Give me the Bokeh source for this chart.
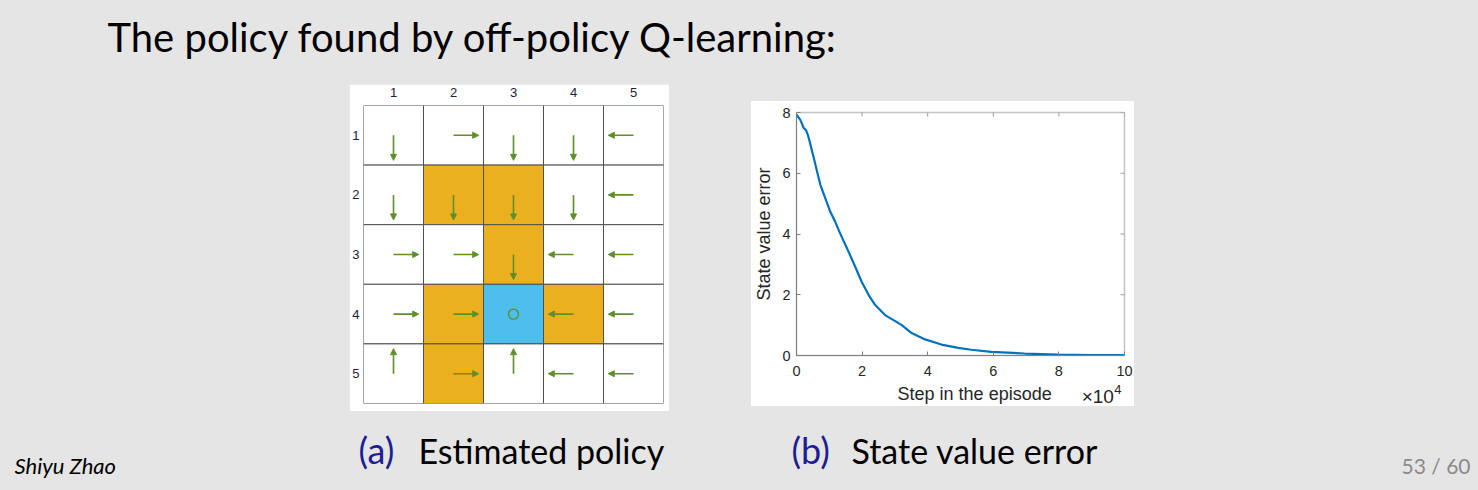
from bokeh.plotting import figure
from bokeh.layouts import column, row
from bokeh.models import (Range1d, FixedTicker, Arrow, NormalHead, ColumnDataSource)
from bokeh.core.properties import value
from bokeh.embed import file_html
from bokeh.resources import INLINE

# ---------------- data ----------------
title_text = "The policy found by off-policy Q-learning:"
caption_a_tag = "(a)"
caption_a = "Estimated policy"
caption_b_tag = "(b)"
caption_b = "State value error"
author = "Shiyu Zhao"
page_label = "53 / 60"

grid_cols = [1, 2, 3, 4, 5]
grid_rows = [1, 2, 3, 4, 5]
# 0 = accessible, 1 = forbidden, 2 = target
cell_types = [
    [0, 0, 0, 0, 0],
    [0, 1, 1, 0, 0],
    [0, 0, 1, 0, 0],
    [0, 1, 2, 1, 0],
    [0, 1, 0, 0, 0],
]
policy = [
    ["down", "right", "down", "down", "left"],
    ["down", "down", "down", "down", "left"],
    ["right", "right", "down", "left", "left"],
    ["right", "right", "stay", "left", "left"],
    ["up", "right", "up", "left", "left"],
]

steps = [0, 1200, 2200, 2900, 3500, 4300, 5300, 6300, 7300, 8800, 10300,
         11800, 13300, 15900, 17900, 19900, 22000, 24000, 27000, 30100,
         32100, 35100, 39200, 44200, 49300, 53300, 59400, 69500, 79700,
         90000, 100000]
errors = [7.93, 7.75, 7.49, 7.42, 7.25, 6.92, 6.49, 6.04, 5.61, 5.17, 4.73,
          4.40, 4.02, 3.41, 2.92, 2.42, 1.99, 1.66, 1.33, 1.13,
          1.00, 0.74, 0.53, 0.36, 0.25, 0.19, 0.12, 0.065, 0.03,
          0.015, 0.01]
x_tick_labels = ["0", "2", "4", "6", "8", "10"]
x_tick_values = [0, 20000, 40000, 60000, 80000, 100000]
y_tick_values = [0, 2, 4, 6, 8]
x_label = "Step in the episode"
y_label = "State value error"
x_multiplier = "\u00d710"
x_exponent = "4"

# ---------------- styles ----------------
BG = "#e5e5e5"
CELL_COLORS = {0: "#ffffff", 1: "#ebb01f", 2: "#4dbeee"}
GREEN = "#5f8f2a"
SLIDE_FONT = value("Lato")
MAT = "Liberation Sans"
MAT_FONT = value(MAT)
INK = "#262626"


def base_fig(w, h, fill=BG, **kw):
    f = figure(width=w, height=h, output_backend="svg", toolbar_location=None, **kw)
    f.background_fill_color = fill
    f.border_fill_color = fill
    f.outline_line_color = None
    f.xgrid.grid_line_color = None
    f.ygrid.grid_line_color = None
    return f


def page_fig(x0, x1, y0, y1, fill=BG):
    # figure whose data space equals page pixel coordinates (y downwards)
    return base_fig(x1 - x0, y1 - y0, fill=fill, x_range=Range1d(x0, x1), y_range=Range1d(y1, y0),
                    x_axis_location=None, y_axis_location=None, min_border=0)


# ---------------- top: title ----------------
top = page_fig(0, 1478, 0, 84)
top.text(x=[107], y=[36.5], text=[title_text], text_font=SLIDE_FONT,
         text_font_size="40px", text_baseline="middle", text_color="#000000")

# ---------------- grid world ----------------
g = figure(width=320, height=327, output_backend="svg", toolbar_location=None,
           x_range=Range1d(0.5, 5.5), y_range=Range1d(5.5, 0.5),
           x_axis_location="above", y_axis_location="left",
           min_border_left=14, min_border_right=6, min_border_top=20, min_border_bottom=8)
g.background_fill_color = "white"
g.border_fill_color = "white"
g.outline_line_color = None
g.xgrid.grid_line_color = None
g.ygrid.grid_line_color = None
for ax in (g.xaxis[0], g.yaxis[0]):
    ax.ticker = FixedTicker(ticks=grid_cols)
    ax.axis_line_color = None
    ax.major_tick_line_color = None
    ax.minor_tick_line_color = None
    ax.major_tick_in = 0
    ax.major_tick_out = 0
    ax.major_label_text_font = MAT
    ax.major_label_text_font_size = "13px"
    ax.major_label_text_color = "#1c1c40"
g.xaxis[0].major_label_standoff = 9
g.yaxis[0].major_label_standoff = 4

cx, cy, cc = [], [], []
ax0, ay0, ax1, ay1 = [], [], [], []
sx, sy = [], []
dirs = {"up": (0, -1), "down": (0, 1), "left": (-1, 0), "right": (1, 0)}
L = 0.42
for ri, r in enumerate(grid_rows):
    for ci, c in enumerate(grid_cols):
        cx.append(c)
        cy.append(r)
        cc.append(CELL_COLORS[cell_types[ri][ci]])
        a = policy[ri][ci]
        if a == "stay":
            sx.append(c)
            sy.append(r)
        else:
            dx, dy = dirs[a]
            ax0.append(c)
            ay0.append(r)
            ax1.append(c + dx * L)
            ay1.append(r + dy * L)

g.rect(x=cx, y=cy, width=1, height=1, fill_color=cc, line_color="#505050", line_width=1)
arrow_src = ColumnDataSource(dict(x0=ax0, y0=ay0, x1=ax1, y1=ay1))
g.add_layout(Arrow(source=arrow_src, x_start="x0", y_start="y0", x_end="x1", y_end="y1",
                   line_color=GREEN, line_width=1.6,
                   end=NormalHead(size=6, fill_color=GREEN, line_color=GREEN, line_width=1)))
g.scatter(x=sx, y=sy, marker="circle", size=10, fill_color=None, line_color=GREEN, line_width=1.4)

# ---------------- line chart ----------------
ch = figure(width=383, height=280, output_backend="svg", toolbar_location=None,
            x_range=Range1d(0, 100000), y_range=Range1d(0, 8),
            min_border_left=43, min_border_right=10, min_border_top=11, min_border_bottom=26)
ch.background_fill_color = "white"
ch.border_fill_color = "white"
ch.outline_line_color = "#c4c4c4"
ch.outline_line_width = 1.5
ch.xgrid.grid_line_color = None
ch.ygrid.grid_line_color = None
ch.line(x=steps, y=errors, line_color="#0072bd", line_width=2.2)

xa = ch.xaxis[0]
ya = ch.yaxis[0]
xa.ticker = FixedTicker(ticks=x_tick_values)
xa.major_label_overrides = {v: t for v, t in zip(x_tick_values, x_tick_labels)}
ya.ticker = FixedTicker(ticks=y_tick_values)
for ax in (xa, ya):
    ax.axis_line_color = "#808080"
    ax.axis_line_width = 1
    ax.major_tick_line_color = "#808080"
    ax.major_tick_in = 4
    ax.major_tick_out = 0
    ax.minor_tick_line_color = None
    ax.major_label_text_font = MAT
    ax.major_label_text_font_size = "14.5px"
    ax.major_label_text_color = INK
ya.axis_label = y_label
ya.axis_label_text_font = MAT
ya.axis_label_text_font_size = "18px"
ya.axis_label_text_font_style = "normal"
ya.axis_label_text_color = INK
xa.major_label_standoff = 10
ya.major_label_standoff = 6
ya.axis_label_standoff = 5

# mirrored ticks on top and right edges (MATLAB box style)
tick_dy = 4 * 8 / 243.0
tick_dx = 4 * 100000 / 330.0
ch.segment(x0=x_tick_values, y0=[8] * len(x_tick_values), x1=x_tick_values,
           y1=[8 - tick_dy] * len(x_tick_values), line_color="#9a9a9a", line_width=1)
ch.segment(x0=[100000] * len(y_tick_values), y0=y_tick_values,
           x1=[100000 - tick_dx] * len(y_tick_values), y1=y_tick_values,
           line_color="#9a9a9a", line_width=1)

# white strip under the chart: x label and exponent
strip = page_fig(751, 1134, 381, 406, fill="white")
strip.text(x=[959], y=[393.8], text=[x_label], text_font=MAT_FONT, text_font_size="18px",
           text_align="center", text_baseline="middle", text_color=INK)
strip.text(x=[1084], y=[396.4], text=[x_multiplier], text_font=MAT_FONT, text_font_size="19px",
           text_baseline="middle", text_color=INK)
strip.text(x=[1122], y=[388.6], text=[x_exponent], text_font=MAT_FONT, text_font_size="13px",
           text_baseline="middle", text_color=INK)

# ---------------- gray pads ----------------
padL = page_fig(0, 349, 84, 411)
padM = page_fig(669, 751, 84, 411)
padRT = page_fig(751, 1478, 84, 101)
padRR = page_fig(1134, 1478, 101, 406)
padRB = page_fig(751, 1478, 406, 411)

# ---------------- bottom: captions & footer ----------------
bot = page_fig(0, 1478, 411, 490)
bot.text(x=[358, 791], y=[449.8, 449.8], text=[caption_a_tag, caption_b_tag], text_font=SLIDE_FONT,
         text_font_size="36px", text_baseline="middle", text_color="#1d1d94")
bot.text(x=[418, 851], y=[449.8, 449.8], text=[caption_a, caption_b], text_font=SLIDE_FONT,
         text_font_size="34px", text_baseline="middle", text_color="#000000")
bot.text(x=[14], y=[464.5], text=[author], text_font=SLIDE_FONT, text_font_size="22px",
         text_font_style="italic", text_baseline="middle", text_color="#000000")
bot.text(x=[1470], y=[464.9], text=[page_label], text_font=SLIDE_FONT, text_font_size="21px",
         text_align="right", text_baseline="middle", text_color="#8a8a8a")

chart_col = column(ch, strip, styles={"background-color": "white"})
right_col = column(padRT, row(chart_col, padRR), padRB)
mid = row(padL, g, padM, right_col)
p = column(top, mid, bot, styles={"background-color": BG})

open("out.html", "w").write(file_html(p, INLINE))
